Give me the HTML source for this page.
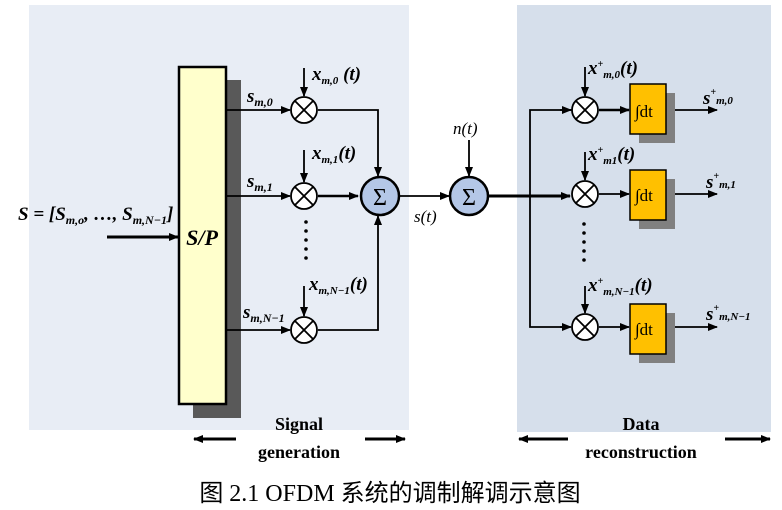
<!DOCTYPE html>
<html><head><meta charset="utf-8"><style>
body{margin:0;width:782px;height:510px;background:#fff;overflow:hidden;position:relative}
svg{position:absolute;left:0;top:0}
text{font-family:"Liberation Serif",serif}
.b{font-weight:bold;font-style:italic}
</style></head><body>
<svg width="782" height="510" viewBox="0 0 782 510">
<defs>
<marker id="a" markerWidth="10" markerHeight="8" refX="9" refY="4" orient="auto" markerUnits="userSpaceOnUse"><path d="M0,0 L10,4 L0,8 z" fill="#000"/></marker>
</defs>
<rect x="29" y="5" width="380" height="425" fill="#e8edf5"/>
<rect x="517" y="5" width="254" height="427" fill="#d6dfeb"/>
<rect x="226" y="80" width="15" height="338" fill="#595959"/>
<rect x="193" y="395" width="48" height="23" fill="#595959"/>
<rect x="179" y="67" width="47" height="337" fill="#ffffcc" stroke="#000" stroke-width="2.5"/>
<text x="202" y="245" class="b" font-size="22" text-anchor="middle">S/P</text>
<line x1="107" y1="237" x2="178" y2="237" stroke="#000" stroke-width="3" marker-end="url(#a)"/>
<text x="18" y="220" class="b" font-size="19">S = [S<tspan font-size="12" dy="4">m,o</tspan><tspan dy="-4">, …, S</tspan><tspan font-size="12" dy="4">m,N−1</tspan><tspan dy="-4">]</tspan></text>
<g stroke="#000" stroke-width="1.8" fill="none">
<line x1="226" y1="110" x2="290" y2="110" marker-end="url(#a)"/>
<line x1="226" y1="196" x2="290" y2="196" marker-end="url(#a)"/>
<line x1="226" y1="330" x2="290" y2="330" marker-end="url(#a)"/>
<line x1="304" y1="68" x2="304" y2="96" marker-end="url(#a)"/>
<line x1="304" y1="150" x2="304" y2="182" marker-end="url(#a)"/>
<line x1="304" y1="286" x2="304" y2="316" marker-end="url(#a)"/>
<polyline points="318,110 378,110 378,176" marker-end="url(#a)"/>
<polyline points="318,330 378,330 378,216" marker-end="url(#a)"/>
<line x1="318" y1="196" x2="358" y2="196" stroke-width="2.5" marker-end="url(#a)"/>
<line x1="400" y1="196" x2="449" y2="196" marker-end="url(#a)"/>
<line x1="469" y1="140" x2="469" y2="176" marker-end="url(#a)"/>
<line x1="489" y1="196" x2="570" y2="196" stroke-width="3" marker-end="url(#a)"/>
<polyline points="585,110 530,110 530,327 570,327"/>
<line x1="560" y1="110" x2="571" y2="110" marker-end="url(#a)"/>
<line x1="560" y1="327" x2="571" y2="327" marker-end="url(#a)"/>
<line x1="585" y1="67" x2="585" y2="96" marker-end="url(#a)"/>
<line x1="585" y1="152" x2="585" y2="180" marker-end="url(#a)"/>
<line x1="585" y1="286" x2="585" y2="313" marker-end="url(#a)"/>
<line x1="599" y1="110" x2="629" y2="110" stroke-width="2.5" marker-end="url(#a)"/>
<line x1="599" y1="194" x2="629" y2="194" marker-end="url(#a)"/>
<line x1="599" y1="327" x2="629" y2="327" marker-end="url(#a)"/>
<line x1="666" y1="110" x2="717" y2="110" marker-end="url(#a)"/>
<line x1="666" y1="194" x2="717" y2="194" marker-end="url(#a)"/>
<line x1="666" y1="327" x2="717" y2="327" marker-end="url(#a)"/>
</g>
<g fill="#fff" stroke="#000" stroke-width="1.8">
<circle cx="304" cy="110" r="13"/><circle cx="304" cy="196" r="13"/><circle cx="304" cy="330" r="13"/>
<circle cx="585" cy="110" r="13"/><circle cx="585" cy="194" r="13"/><circle cx="585" cy="327" r="13"/>
</g>
<g stroke="#000" stroke-width="1.8">
<path d="M295,101 L313,119 M313,101 L295,119"/><path d="M295,187 L313,205 M313,187 L295,205"/><path d="M295,321 L313,339 M313,321 L295,339"/>
<path d="M576,101 L594,119 M594,101 L576,119"/><path d="M576,185 L594,203 M594,185 L576,203"/><path d="M576,318 L594,336 M594,318 L576,336"/>
</g>
<circle cx="380" cy="196" r="19" fill="#b4c7e7" stroke="#000" stroke-width="2.5"/>
<text x="380" y="205" font-size="24" text-anchor="middle">Σ</text>
<circle cx="469" cy="196" r="19" fill="#b4c7e7" stroke="#000" stroke-width="2.5"/>
<text x="469" y="205" font-size="24" text-anchor="middle">Σ</text>
<g fill="#000"><circle cx="306" cy="222" r="1.8"/><circle cx="306" cy="231" r="1.8"/><circle cx="306" cy="240" r="1.8"/><circle cx="306" cy="249" r="1.8"/><circle cx="306" cy="258" r="1.8"/>
<circle cx="584" cy="224" r="1.8"/><circle cx="584" cy="233" r="1.8"/><circle cx="584" cy="242" r="1.8"/><circle cx="584" cy="251" r="1.8"/><circle cx="584" cy="260" r="1.8"/></g>
<g>
<rect x="639" y="93" width="36" height="50" fill="#808080"/>
<rect x="630" y="84" width="36" height="50" fill="#ffc000" stroke="#000" stroke-width="1.5"/>
<rect x="639" y="179" width="36" height="50" fill="#808080"/>
<rect x="630" y="170" width="36" height="50" fill="#ffc000" stroke="#000" stroke-width="1.5"/>
<rect x="639" y="313" width="36" height="50" fill="#808080"/>
<rect x="630" y="304" width="36" height="50" fill="#ffc000" stroke="#000" stroke-width="1.5"/>
</g>
<g font-size="17"><text x="635" y="117">∫dt</text><text x="635" y="201">∫dt</text><text x="635" y="335">∫dt</text></g>
<g class="b" font-size="19">
<text x="247" y="102">s<tspan font-size="12" dy="4">m,0</tspan></text>
<text x="247" y="187">s<tspan font-size="12" dy="4">m,1</tspan></text>
<text x="243" y="318">s<tspan font-size="12" dy="4">m,N−1</tspan></text>
<text x="312" y="80">x<tspan font-size="11" dy="4">m,0</tspan><tspan dy="-4"> (t)</tspan></text>
<text x="312" y="159">x<tspan font-size="11" dy="4">m,1</tspan><tspan dy="-4">(t)</tspan></text>
<text x="309" y="290">x<tspan font-size="11" dy="4">m,N−1</tspan><tspan dy="-4">(t)</tspan></text>
<text x="588" y="74">x<tspan font-size="10" dy="-7">+</tspan><tspan font-size="11" dy="11">m,0</tspan><tspan dy="-4">(t)</tspan></text>
<text x="588" y="160">x<tspan font-size="10" dy="-7">+</tspan><tspan font-size="11" dy="11">m1</tspan><tspan dy="-4">(t)</tspan></text>
<text x="588" y="291">x<tspan font-size="10" dy="-7">+</tspan><tspan font-size="11" dy="11">m,N−1</tspan><tspan dy="-4">(t)</tspan></text>
<text x="703" y="104">s<tspan font-size="10" dy="-9">+</tspan><tspan font-size="11" dy="9">m,0</tspan></text>
<text x="706" y="188">s<tspan font-size="10" dy="-9">+</tspan><tspan font-size="11" dy="9">m,1</tspan></text>
<text x="706" y="320">s<tspan font-size="10" dy="-9">+</tspan><tspan font-size="11" dy="9">m,N−1</tspan></text>
</g>
<text x="453" y="134" font-size="17" font-style="italic">n(t)</text>
<text x="414" y="222" font-size="17" font-style="italic">s(t)</text>
<g font-size="18" font-weight="bold" text-anchor="middle">
<text x="299" y="430">Signal</text><text x="299" y="458">generation</text>
<text x="641" y="430">Data</text><text x="641" y="458">reconstruction</text>
</g>
<g stroke="#000" stroke-width="3">
<line x1="236" y1="439" x2="194" y2="439" marker-end="url(#a)"/>
<line x1="365" y1="439" x2="405" y2="439" marker-end="url(#a)"/>
<line x1="568" y1="439" x2="519" y2="439" marker-end="url(#a)"/>
<line x1="725" y1="439" x2="770" y2="439" marker-end="url(#a)"/>
</g>
<text x="390" y="501" font-size="24" text-anchor="middle" font-family="Liberation Serif, Noto Serif CJK SC, serif">图 2.1  OFDM 系统的调制解调示意图</text>
</svg>
</body></html>
